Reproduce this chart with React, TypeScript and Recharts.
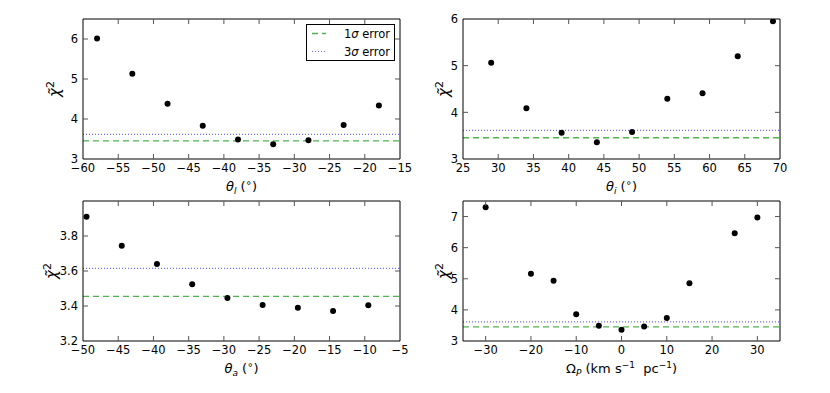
import React from "react";
import { ScatterChart, Scatter, XAxis, YAxis, ReferenceLine, Label } from "recharts";

// top left: theta_l scan
const thetaL = [-58, -53, -48, -43, -38, -33, -28, -23, -18];
const chiThetaL = [6.01, 5.13, 4.38, 3.83, 3.49, 3.37, 3.47, 3.85, 4.34];
const thetaLTicks = [-60, -55, -50, -45, -40, -35, -30, -25, -20, -15];
const thetaLYTicks = [3, 4, 5, 6];

// top right: theta_i scan
const thetaI = [29, 34, 39, 44, 49, 54, 59, 64, 69];
const chiThetaI = [5.06, 4.09, 3.56, 3.36, 3.58, 4.29, 4.41, 5.2, 5.95];
const thetaITicks = [25, 30, 35, 40, 45, 50, 55, 60, 65, 70];
const thetaIYTicks = [3, 4, 5, 6];

// bottom left: theta_a scan
const thetaA = [-49.5, -44.5, -39.5, -34.5, -29.5, -24.5, -19.5, -14.5, -9.5];
const chiThetaA = [3.91, 3.745, 3.64, 3.524, 3.446, 3.406, 3.39, 3.372, 3.404];
const thetaATicks = [-50, -45, -40, -35, -30, -25, -20, -15, -10, -5];
const thetaAYTicks = [3.2, 3.4, 3.6, 3.8];

// bottom right: pattern speed scan
const omegaP = [-30, -20, -15, -10, -5, 0, 5, 10, 15, 25, 30];
const chiOmegaP = [7.3, 5.16, 4.94, 3.86, 3.49, 3.36, 3.47, 3.74, 4.86, 6.46, 6.97];
const omegaTicks = [-30, -20, -10, 0, 10, 20, 30];
const omegaYTicks = [3, 4, 5, 6, 7];

const sigma1 = 3.455;
const sigma3 = 3.615;

const FONT = "DejaVu Sans";
const GREEN = "#4fb34f";
const BLUE = "#6b6bff";
const TICK = "#555";

const W = 415;
const H = 196;
const PL = 83;
const PT = 19;
const PR = 400;
const PB = 159;

const fmtInt = (v: number) => (v < 0 ? "\u2212" + Math.abs(v) : String(v));
const fmt1 = (v: number) => v.toFixed(1);

type PanelProps = {
  left: number;
  top: number;
  xs: number[];
  ys: number[];
  xDomain: [number, number];
  yDomain: [number, number];
  xTicks: number[];
  yTicks: number[];
  yFmt: (v: number) => string;
  yLabelDx: number;
  xLabel: React.ReactNode;
};

const Panel = ({ left, top, xs, ys, xDomain, yDomain, xTicks, yTicks, yFmt, yLabelDx, xLabel }: PanelProps) => {
  const data = xs.map((x, i) => ({ x, y: ys[i] }));
  const isEdgeX = (v: number) => v === xDomain[0] || v === xDomain[1];
  const isEdgeY = (v: number) => v === yDomain[0] || v === yDomain[1];

  return (
    <div style={{ position: "absolute", left, top }}>
      <ScatterChart width={W} height={H} margin={{ top: PT - 1, right: W - PR - 1, left: PL - 40, bottom: H - PB - 30 }}>
        <XAxis
          type="number"
          dataKey="x"
          domain={xDomain}
          ticks={xTicks}
          interval={0}
          allowDataOverflow
          height={30}
          tickSize={0}
          tickMargin={0}
          tickLine={false}
          axisLine={{ stroke: "#000" }}
          tick={(p: any) => (
            <g>
              {!isEdgeX(p.payload.value) && <line x1={p.x} x2={p.x} y1={p.y} y2={p.y - 5} stroke={TICK} />}
              <text x={p.x} y={p.y + 12.5} textAnchor="middle" fontSize={11.5} fontFamily={FONT} fill="#000">
                {fmtInt(p.payload.value)}
              </text>
            </g>
          )}
        >
          <Label
            content={() => (
              <text x={(PL + PR) / 2} y={PB + 32} textAnchor="middle" fontSize={13} fontFamily={FONT} fill="#000" style={{ whiteSpace: "pre" }}>
                {xLabel}
              </text>
            )}
          />
        </XAxis>
        <XAxis
          xAxisId="top"
          orientation="top"
          type="number"
          dataKey="x"
          domain={xDomain}
          ticks={xTicks}
          interval={0}
          allowDataOverflow
          height={1}
          tickSize={0}
          tickMargin={0}
          tickLine={false}
          axisLine={{ stroke: "#000" }}
          tick={(p: any) =>
            isEdgeX(p.payload.value) ? <g /> : <line x1={p.x} x2={p.x} y1={PT} y2={PT + 5} stroke={TICK} />
          }
        />
        <YAxis
          type="number"
          dataKey="y"
          domain={yDomain}
          ticks={yTicks}
          interval={0}
          allowDataOverflow
          width={40}
          tickSize={0}
          tickMargin={0}
          tickLine={false}
          axisLine={{ stroke: "#000" }}
          tick={(p: any) => (
            <g>
              {!isEdgeY(p.payload.value) && <line x1={PL} x2={PL + 5} y1={p.y} y2={p.y} stroke={TICK} />}
              <text x={PL - 5} y={p.y + 4.2} textAnchor="end" fontSize={11.5} fontFamily={FONT} fill="#000">
                {yFmt(p.payload.value)}
              </text>
            </g>
          )}
        >
          <Label
            content={() => {
              const lx = PL + yLabelDx + 5;
              const ly = (PT + PB) / 2;
              return (
                <text x={lx} y={ly} transform={`rotate(-90, ${lx}, ${ly})`} textAnchor="middle" fontSize={15} fontFamily={FONT} fill="#000">
                  <tspan fontStyle="italic">{"\u03c7\u0303"}</tspan>
                  <tspan fontSize={11} dy={-6}>2</tspan>
                </text>
              );
            }}
          />
        </YAxis>
        <YAxis
          yAxisId="right"
          orientation="right"
          type="number"
          dataKey="y"
          domain={yDomain}
          ticks={yTicks}
          interval={0}
          allowDataOverflow
          width={1}
          tickSize={0}
          tickMargin={0}
          tickLine={false}
          axisLine={{ stroke: "#000" }}
          tick={(p: any) =>
            isEdgeY(p.payload.value) ? <g /> : <line x1={PR} x2={PR - 5} y1={p.y} y2={p.y} stroke={TICK} />
          }
        />
        <ReferenceLine y={sigma1} stroke={GREEN} strokeWidth={1.3} strokeDasharray="6 4" />
        <ReferenceLine y={sigma3} stroke={BLUE} strokeWidth={1.2} strokeDasharray="1 2" />
        {/* invisible copy so the top/right frame axes get drawn */}
        <Scatter
          data={data}
          xAxisId="top"
          yAxisId="right"
          isAnimationActive={false}
          shape={() => <g />}
        />
        <Scatter
          data={data}
          isAnimationActive={false}
          shape={(p: any) => <circle cx={p.cx} cy={p.cy} r={3} fill="#000" />}
        />
      </ScatterChart>
    </div>
  );
};

const degree = (
  <>
    <tspan>{"("}</tspan>
    <tspan fontSize={10} dy={-5}>{"\u2218"}</tspan>
    <tspan dy={5}>)</tspan>
  </>
);

const Legend = () => (
  <svg width={90} height={38} style={{ position: "absolute", left: 306, top: 24 }}>
    <rect x={0.5} y={0.5} width={88} height={36} fill="#fff" stroke="#000" />
    <line x1={6} x2={20} y1={9.5} y2={9.5} stroke={GREEN} strokeWidth={1.3} strokeDasharray="6 4" />
    <text x={84} y={13.5} textAnchor="end" fontSize={11.5} fontFamily={FONT} fill="#000">
      1<tspan fontStyle="italic">σ</tspan> error
    </text>
    <line x1={6} x2={20} y1={27.5} y2={27.5} stroke={BLUE} strokeWidth={1.2} strokeDasharray="1 2" />
    <text x={84} y={31.5} textAnchor="end" fontSize={11.5} fontFamily={FONT} fill="#000">
      3<tspan fontStyle="italic">σ</tspan> error
    </text>
  </svg>
);

export default function App() {
  return (
    <div style={{ position: "absolute", left: 0, top: 0, width: 830, height: 393, background: "#fff" }}>
      <Panel
        left={0}
        top={0}
        xs={thetaL}
        ys={chiThetaL}
        xDomain={[-60, -15]}
        yDomain={[3, 6.5]}
        xTicks={thetaLTicks}
        yTicks={thetaLYTicks}
        yFmt={fmtInt}
        yLabelDx={-28}
        xLabel={
          <>
            <tspan fontStyle="italic">θ</tspan>
            <tspan fontStyle="italic" fontSize={9} dy={3}>l</tspan>
            <tspan dy={-3}>{" "}</tspan>
            {degree}
          </>
        }
      />
      <Panel
        left={380}
        top={0}
        xs={thetaI}
        ys={chiThetaI}
        xDomain={[25, 70]}
        yDomain={[3, 6]}
        xTicks={thetaITicks}
        yTicks={thetaIYTicks}
        yFmt={fmtInt}
        yLabelDx={-19}
        xLabel={
          <>
            <tspan fontStyle="italic">θ</tspan>
            <tspan fontStyle="italic" fontSize={9} dy={3}>i</tspan>
            <tspan dy={-3}>{" "}</tspan>
            {degree}
          </>
        }
      />
      <Panel
        left={0}
        top={182}
        xs={thetaA}
        ys={chiThetaA}
        xDomain={[-50, -5]}
        yDomain={[3.2, 4.0]}
        xTicks={thetaATicks}
        yTicks={thetaAYTicks}
        yFmt={fmt1}
        yLabelDx={-31}
        xLabel={
          <>
            <tspan fontStyle="italic">θ</tspan>
            <tspan fontStyle="italic" fontSize={9} dy={3}>a</tspan>
            <tspan dy={-3}>{" "}</tspan>
            {degree}
          </>
        }
      />
      <Panel
        left={380}
        top={182}
        xs={omegaP}
        ys={chiOmegaP}
        xDomain={[-35, 35]}
        yDomain={[3, 7.5]}
        xTicks={omegaTicks}
        yTicks={omegaYTicks}
        yFmt={fmtInt}
        yLabelDx={-19}
        xLabel={
          <>
            <tspan>Ω</tspan>
            <tspan fontStyle="italic" fontSize={9} dy={3}>P</tspan>
            <tspan dy={-3}>{" (km s"}</tspan>
            <tspan fontSize={9} dy={-5}>{"\u22121"}</tspan>
            <tspan dy={5}>{"  pc"}</tspan>
            <tspan fontSize={9} dy={-5}>{"\u22121"}</tspan>
            <tspan dy={5}>)</tspan>
          </>
        }
      />
      <Legend />
    </div>
  );
}
